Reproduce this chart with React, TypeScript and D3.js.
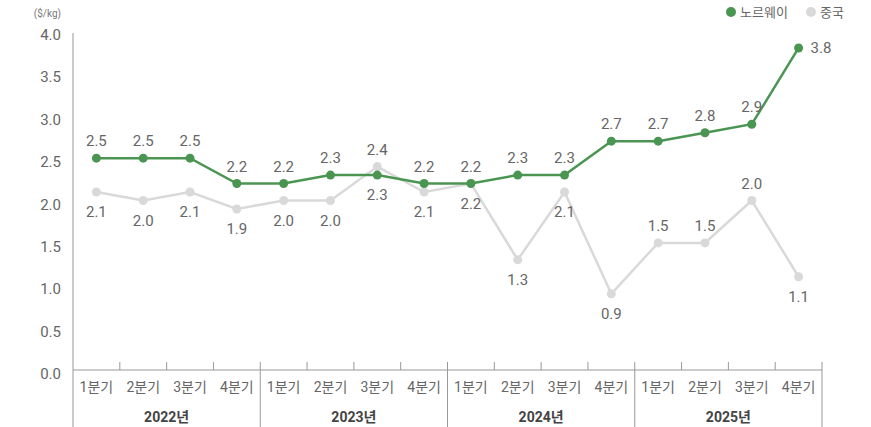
import { useEffect, useRef } from 'react'
import * as d3 from 'd3'

const years = ['2022년', '2023년', '2024년', '2025년']
const quarters = ['1분기', '2분기', '3분기', '4분기']
const norway = [2.5, 2.5, 2.5, 2.2, 2.2, 2.3, 2.3, 2.2, 2.2, 2.3, 2.3, 2.7, 2.7, 2.8, 2.9, 3.8]
const china = [2.1, 2.0, 2.1, 1.9, 2.0, 2.0, 2.4, 2.1, 2.2, 1.3, 2.1, 0.9, 1.5, 1.5, 2.0, 1.1]
// where the label goes: 'a' above, 'b' below, 'r' right
const norwayPos = ['a', 'a', 'a', 'a', 'a', 'a', 'b', 'a', 'a', 'a', 'a', 'a', 'a', 'a', 'a', 'r']
const chinaPos = ['b', 'b', 'b', 'b', 'b', 'b', 'a', 'b', 'b', 'b', 'b', 'b', 'a', 'a', 'a', 'b']
const yTicks = [0, 0.5, 1, 1.5, 2, 2.5, 3, 3.5, 4]

const GREEN = '#4b9553'
const GRAY = '#d9d9d9'
const FONT = "Roboto, 'Noto Sans CJK KR', sans-serif"

export default function App() {
  const svgRef = useRef<SVGSVGElement>(null)

  useEffect(() => {
    if (!svgRef.current) return
    const svg = d3.select(svgRef.current)
    svg.selectAll('*').remove()

    const width = 871
    const height = 427
    const left = 73
    const right = 822
    svg.attr('width', width).attr('height', height).style('font-family', FONT)

    const cats = years.flatMap(y => quarters.map(q => `${y}-${q}`))
    const x = d3.scaleBand().domain(cats).range([left, right])
    const y = d3.scaleLinear().domain([0, 4]).range([370, 31])
    const cx = (i: number) => (x(cats[i]) as number) + x.bandwidth() / 2

    // y axis labels
    svg.append('g').selectAll('text')
      .data(yTicks)
      .enter().append('text')
      .attr('x', 61)
      .attr('y', d => y(d) + 9)
      .attr('text-anchor', 'end')
      .style('font-size', '15px')
      .style('fill', '#666')
      .text(d => d.toFixed(1))

    svg.append('text')
      .attr('x', 61).attr('y', 17)
      .attr('text-anchor', 'end')
      .style('font-size', '10px')
      .style('fill', '#777')
      .text('($/kg)')

    // axis lines
    svg.append('line')
      .attr('x1', left).attr('x2', left).attr('y1', 33).attr('y2', height)
      .style('stroke', '#999').style('stroke-width', 1)
    svg.append('line')
      .attr('x1', left).attr('x2', right).attr('y1', y(0)).attr('y2', y(0))
      .style('stroke', '#999').style('stroke-width', 1)

    // ticks between quarters and year separators
    cats.forEach((c, i) => {
      if (i === 0) return
      const xx = x(c) as number
      const isYear = i % 4 === 0
      svg.append('line')
        .attr('x1', xx).attr('x2', xx)
        .attr('y1', y(0) - 8).attr('y2', isYear ? height : y(0))
        .style('stroke', '#999').style('stroke-width', 1)
    })
    svg.append('line')
      .attr('x1', right).attr('x2', right).attr('y1', y(0) - 8).attr('y2', height)
      .style('stroke', '#999').style('stroke-width', 1)

    // quarter labels
    svg.append('g').selectAll('text')
      .data(cats)
      .enter().append('text')
      .attr('x', (d, i) => cx(i))
      .attr('y', 392)
      .attr('text-anchor', 'middle')
      .style('font-size', '14px')
      .style('fill', '#666')
      .text(d => d.split('-')[1])

    // year labels
    svg.append('g').selectAll('text')
      .data(years)
      .enter().append('text')
      .attr('x', (d, i) => left + x.bandwidth() * (i * 4 + 2))
      .attr('y', 422)
      .attr('text-anchor', 'middle')
      .style('font-size', '14px')
      .style('font-weight', 'bold')
      .style('fill', '#444')
      .text(d => d)

    const line = d3.line<number>()
      .x((d, i) => cx(i))
      .y(d => y(d))

    const drawSeries = (vals: number[], pos: string[], color: string) => {
      svg.append('path')
        .datum(vals)
        .attr('d', line)
        .style('fill', 'none')
        .style('stroke', color)
        .style('stroke-width', 2.5)
      svg.append('g').selectAll('circle')
        .data(vals)
        .enter().append('circle')
        .attr('cx', (d, i) => cx(i))
        .attr('cy', d => y(d))
        .attr('r', 4.5)
        .style('fill', color)
      svg.append('g').selectAll('text')
        .data(vals)
        .enter().append('text')
        .attr('x', (d, i) => pos[i] === 'r' ? cx(i) + 12 : cx(i))
        .attr('y', (d, i) => pos[i] === 'a' ? y(d) - 12 : pos[i] === 'b' ? y(d) + 25 : y(d) + 5)
        .attr('text-anchor', (d, i) => pos[i] === 'r' ? 'start' : 'middle')
        .style('font-size', '15px')
        .style('fill', '#666')
        .text(d => d.toFixed(1))
    }

    drawSeries(china, chinaPos, GRAY)
    drawSeries(norway, norwayPos, GREEN)

    // legend
    const legend = [
      { name: '노르웨이', color: GREEN, x: 731 },
      { name: '중국', color: GRAY, x: 811 },
    ]
    legend.forEach(l => {
      svg.append('circle').attr('cx', l.x).attr('cy', 12).attr('r', 5).style('fill', l.color)
      svg.append('text')
        .attr('x', l.x + 9).attr('y', 17)
        .style('font-size', '13px')
        .style('fill', '#666')
        .text(l.name)
    })
  }, [])

  return <svg ref={svgRef} style={{ position: 'absolute', left: 0, top: 0 }} />
}
